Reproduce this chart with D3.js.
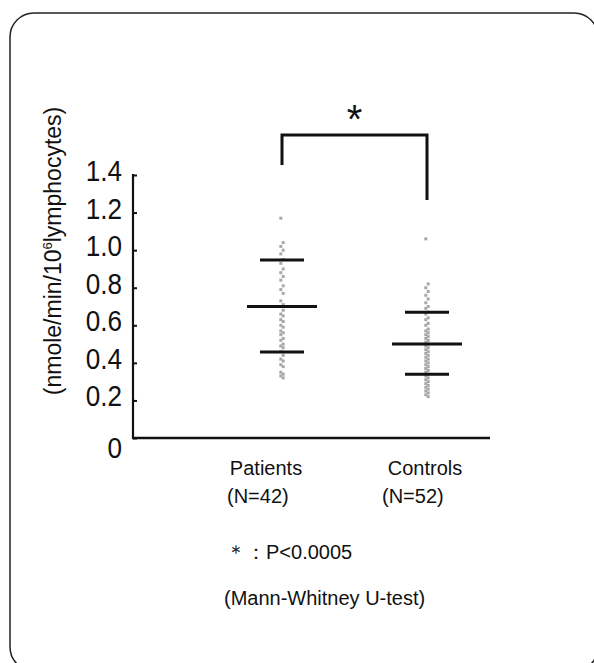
<!DOCTYPE html>
<html>
<head>
<meta charset="utf-8">
<script src="https://cdn.jsdelivr.net/npm/d3@7"></script>
<style>
  body { margin: 0; background: #fff; }
  text { font-family: "Liberation Sans", Arial, sans-serif; fill: #111; }
</style>
</head>
<body>
<script>
// donnees du graphique
var groups = ["Patients", "Controls"];
var groupN = ["(N=42)", "(N=52)"];
var patientValues = [1.17, 1.04, 1.02, 1.00, 0.98, 0.95, 0.93, 0.90, 0.88, 0.86,
  0.84, 0.81, 0.79, 0.77, 0.73, 0.71, 0.70, 0.68, 0.66, 0.65,
  0.63, 0.62, 0.60, 0.59, 0.57, 0.56, 0.55, 0.53, 0.52, 0.50,
  0.49, 0.48, 0.46, 0.44, 0.42, 0.41, 0.39, 0.38, 0.35, 0.34, 0.33, 0.32];
var controlValues = [1.06, 0.82, 0.80, 0.78, 0.76, 0.74, 0.72, 0.70, 0.69, 0.67, 0.66,
  0.64, 0.63, 0.61, 0.60, 0.58, 0.57, 0.56, 0.55, 0.54, 0.53,
  0.52, 0.51, 0.50, 0.49, 0.48, 0.47, 0.46, 0.45, 0.44, 0.43,
  0.42, 0.41, 0.40, 0.39, 0.38, 0.37, 0.36, 0.35, 0.34, 0.33,
  0.32, 0.31, 0.30, 0.29, 0.28, 0.27, 0.26, 0.25, 0.24, 0.23, 0.22];
var means = [0.70, 0.50];
var sdUpper = [0.947, 0.67];
var sdLower = [0.458, 0.34];
var yTicks = [0, 0.2, 0.4, 0.6, 0.8, 1.0, 1.2, 1.4];
var yTickLabels = ["0", "0.2", "0.4", "0.6", "0.8", "1.0", "1.2", "1.4"];

var width = 594, height = 663;

var svg = d3.select("body").append("svg")
  .attr("width", width)
  .attr("height", height);

// cadre arrondi
svg.append("rect")
  .attr("x", 10).attr("y", 13)
  .attr("width", 588).attr("height", 658)
  .attr("rx", 24).attr("ry", 24)
  .attr("fill", "none")
  .attr("stroke", "#222")
  .attr("stroke-width", 1.5);

var y = d3.scaleLinear().domain([0, 1.4]).range([438, 175]);
var x = d3.scalePoint().domain(groups).range([282, 427]);

// axe y
var yAxis = d3.axisRight(y)
  .tickValues(yTicks)
  .tickSize(4)
  .tickFormat("");
var gy = svg.append("g")
  .attr("transform", "translate(133,0)")
  .call(yAxis);
gy.select(".domain").remove();
gy.selectAll(".tick line").attr("stroke", "#111").attr("stroke-width", 2);
svg.append("line")
  .attr("x1", 133).attr("x2", 133)
  .attr("y1", y(1.4) - 1).attr("y2", y(0) + 1)
  .attr("stroke", "#111").attr("stroke-width", 2.2);

// etiquettes de l'axe y (police un peu etroite et haute)
svg.append("g").selectAll("text")
  .data(yTicks)
  .join("text")
  .attr("transform", function(d) {
    return "translate(122," + (d === 0 ? y(d) + 10 : y(d) - 4) + ") scale(0.9,1)";
  })
  .attr("text-anchor", "end")
  .attr("dominant-baseline", "central")
  .style("font-size", "29px")
  .text(function(d, i) { return yTickLabels[i]; });

// axe x
svg.append("line")
  .attr("x1", 132).attr("x2", 490)
  .attr("y1", y(0)).attr("y2", y(0))
  .attr("stroke", "#111").attr("stroke-width", 2.5);

// titre de l'axe y
var title = svg.append("text")
  .attr("transform", "translate(61,251) rotate(-90)")
  .attr("text-anchor", "middle")
  .style("font-size", "23px");
title.append("tspan").text("(nmole/min/10");
title.append("tspan").attr("dy", -9).style("font-size", "13px").text("6");
title.append("tspan").attr("dy", 9).text("lymphocytes)");

// points
var series = [patientValues, controlValues];
series.forEach(function(vals, gi) {
  svg.append("g").selectAll("rect")
    .data(vals)
    .join("rect")
    .attr("x", function(d, i) { return x(groups[gi]) - 1.5 + (i % 2 === 0 ? -1.2 : 1.2); })
    .attr("y", function(d) { return y(d) - 1.5; })
    .attr("width", 3).attr("height", 3)
    .attr("fill", "#a8a8a8");
});

// moyenne et ecart type
groups.forEach(function(g, i) {
  var cx = x(g);
  [[sdUpper[i], 22], [means[i], 35], [sdLower[i], 22]].forEach(function(p) {
    svg.append("line")
      .attr("x1", cx - p[1]).attr("x2", cx + p[1])
      .attr("y1", y(p[0])).attr("y2", y(p[0]))
      .attr("stroke", "#111").attr("stroke-width", 3);
  });
});

// crochet de significativite
svg.append("path")
  .attr("d", "M" + x(groups[0]) + ",165V135H" + x(groups[1]) + "V200")
  .attr("fill", "none")
  .attr("stroke", "#111")
  .attr("stroke-width", 3);
svg.append("text")
  .attr("x", (x(groups[0]) + x(groups[1])) / 2)
  .attr("y", 133)
  .attr("text-anchor", "middle")
  .style("font-size", "40px")
  .text("*");

// etiquettes des groupes
groups.forEach(function(g, i) {
  svg.append("text")
    .attr("x", x(g) + (i === 0 ? -16 : -2))
    .attr("y", 475)
    .attr("text-anchor", "middle")
    .style("font-size", "20px")
    .text(g);
  svg.append("text")
    .attr("x", x(g) + (i === 0 ? -55 : -45))
    .attr("y", 503)
    .style("font-size", "20px")
    .text(groupN[i]);
});

// note statistique
svg.append("text")
  .attr("x", 226).attr("y", 559)
  .style("font-size", "20px")
  .text("＊：P<0.0005");
svg.append("text")
  .attr("x", 224).attr("y", 605)
  .style("font-size", "20px")
  .text("(Mann-Whitney U-test)");
</script>
</body>
</html>
